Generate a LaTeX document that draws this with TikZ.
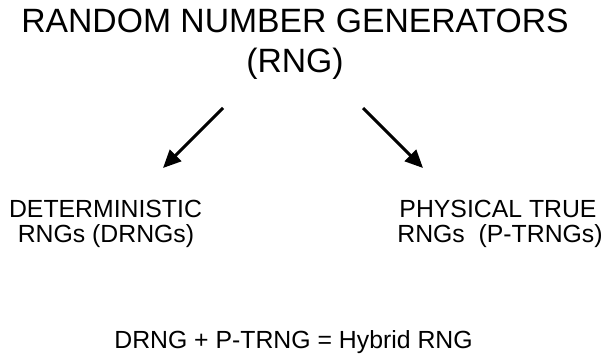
\documentclass[tikz,border=0pt]{standalone}
\usepackage{fontspec}
\setmainfont{Liberation Sans}
\usetikzlibrary{arrows.meta}
\begin{document}
\begin{tikzpicture}[x=1pt,y=-1pt,
  title/.style={font=\fontsize{33.7}{38}\selectfont, inner sep=0pt, anchor=base},
  label/.style={font=\fontsize{24.8}{28}\selectfont, inner sep=0pt, anchor=base},
  branch/.style={line width=3pt, -{Triangle[length=18pt,width=16pt]}}]
  \useasboundingbox (0,0) rectangle (609,353);
  % heading
  \node[title] (t1) at (295,33) {RANDOM NUMBER GENERATORS};
  \node[title] (t2) at (295,72) {(RNG)};
  % the two families
  \node[label] (d1) at (105.5,217) {DETERMINISTIC};
  \node[label] (d2) at (106,242) {RNGs (DRNGs)};
  \node[label] (p1) at (498,217) {PHYSICAL TRUE};
  \node[label] (p2) at (500,242) {RNGs\ \ (P-TRNGs)};
  % the combination
  \node[label] (h) at (293.5,348) {DRNG + P-TRNG = Hybrid RNG};
  % arrows from the heading to each family
  \coordinate (ls) at (223,108);
  \coordinate (le) at (163,168);
  \coordinate (rs) at (363,108);
  \coordinate (re) at (423,168);
  \draw[branch] (ls) -- (le);
  \draw[branch] (rs) -- (re);
\end{tikzpicture}
\end{document}
